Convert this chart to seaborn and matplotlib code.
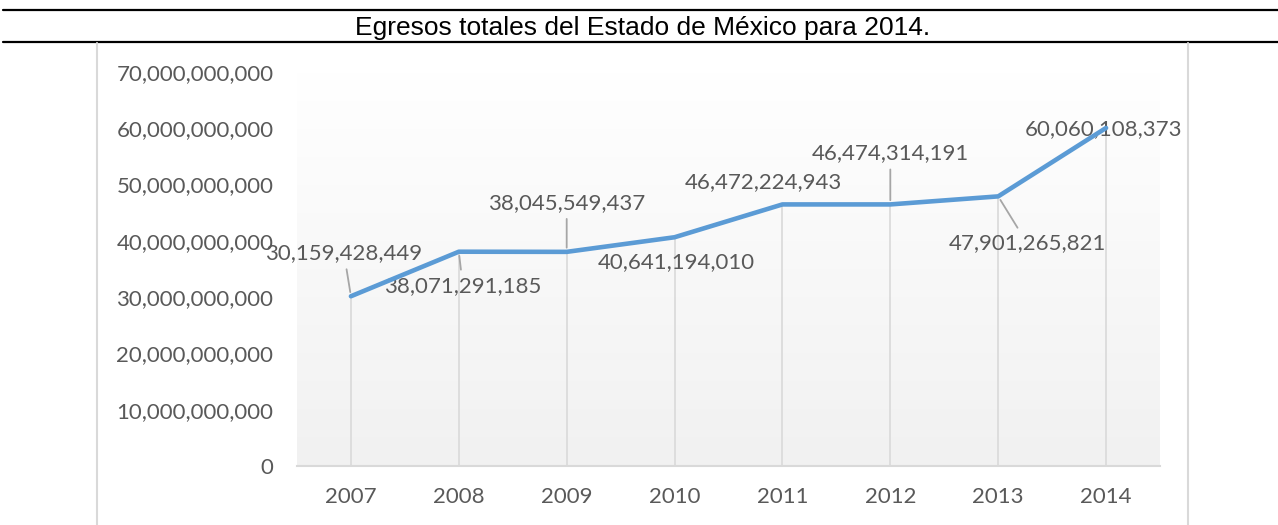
import numpy as np
import pandas as pd
import matplotlib
matplotlib.use("Agg")
import matplotlib.pyplot as plt
from matplotlib.colors import LinearSegmentedColormap
from matplotlib.lines import Line2D
from matplotlib.ticker import FuncFormatter
import seaborn as sns

# Egresos totales (pesos) por año
years = ["2007", "2008", "2009", "2010", "2011", "2012", "2013", "2014"]
egresos = [30159428449, 38071291185, 38045549437, 40641194010,
           46472224943, 46474314191, 47901265821, 60060108373]
y_ticks = [0, 10e9, 20e9, 30e9, 40e9, 50e9, 60e9, 70e9]
title = "Egresos totales del Estado de México para 2014."

# Placement of the value labels (pixel offsets from each point) and leader lines
label_offsets = [(-7, 43), (4, -34), (0, 49), (2, -25),
                 (-19, 22), (0, 51), (29, -47), (-3, -1)]
leader_line = [True, True, True, False, False, True, True, False]

sns.set_theme(style="white")
plt.rcParams["font.family"] = ["Lato", "DejaVu Sans"]

W, H, DPI = 1278, 525, 100
fig = plt.figure(figsize=(W / DPI, H / DPI), dpi=DPI)
fig.patch.set_facecolor("white")

ax = fig.add_axes([297 / W, (H - 466) / H, (1160 - 297) / W, (466 - 72) / H])

df = pd.DataFrame({"pos": np.arange(len(years)), "egresos": egresos})

# Plot-area gradient (white at top to light grey at the bottom)
grad_cmap = LinearSegmentedColormap.from_list("plotbg", ["#ffffff", "#f1f1f1"])
ax.imshow(np.linspace(0, 1, 256).reshape(-1, 1), cmap=grad_cmap, aspect="auto",
          extent=[-0.5, len(years) - 0.5, 0, 70e9], origin="upper", zorder=0)

# Drop lines from each point to the axis
ax.vlines(df["pos"], 0, df["egresos"], color="#d9d9d9", linewidth=1.2, zorder=1)

sns.lineplot(data=df, x="pos", y="egresos", ax=ax, color="#5b9bd5",
             linewidth=3.3, zorder=4, solid_capstyle="round")

ax.set_xlim(-0.5, len(years) - 0.5)
ax.set_ylim(0, 70e9)
ax.set_xticks(df["pos"], years)
ax.set_yticks(y_ticks)
ax.yaxis.set_major_formatter(FuncFormatter(lambda v, _: f"{v:,.0f}"))
ax.set_xlabel("")
ax.set_ylabel("")
ax.tick_params(axis="both", length=0, labelsize=16, labelcolor="#595959")
ax.tick_params(axis="y", pad=17)
ax.tick_params(axis="x", pad=15)
for side in ("top", "left", "right"):
    ax.spines[side].set_visible(False)
ax.spines["bottom"].set_color("#d9d9d9")
ax.spines["bottom"].set_linewidth(1.5)
ax.spines["bottom"].set_zorder(2)

# Value labels
for x, v, (dx, dy), lead in zip(df["pos"], egresos, label_offsets, leader_line):
    props = None
    if lead:
        props = dict(arrowstyle="-", color="#a6a6a6", linewidth=1.3,
                     shrinkA=2, shrinkB=3)
    ax.annotate(f"{v:,.0f}", xy=(x, v), xytext=(dx, dy), textcoords="offset pixels",
                ha="center", va="center", fontsize=16, color="#595959",
                arrowprops=props, zorder=3)

# Heading rules and title
fig.add_artist(Line2D([3 / W, 1], [1 - 10 / H, 1 - 10 / H], color="black", linewidth=1.6))
fig.add_artist(Line2D([3 / W, 1], [1 - 42 / H, 1 - 42 / H], color="black", linewidth=1.6))
fig.text(643 / W, 1 - 27.5 / H, title, ha="center", va="center", fontsize=19,
         color="black", family=["Liberation Sans", "DejaVu Sans"])

# Chart frame (left and right edges)
fig.add_artist(Line2D([97 / W, 97 / W], [0, 1 - 43 / H], color="#d9d9d9", linewidth=1.5))
fig.add_artist(Line2D([1188 / W, 1188 / W], [0, 1 - 43 / H], color="#d9d9d9", linewidth=1.5))

fig.savefig("out.png", dpi=DPI)
